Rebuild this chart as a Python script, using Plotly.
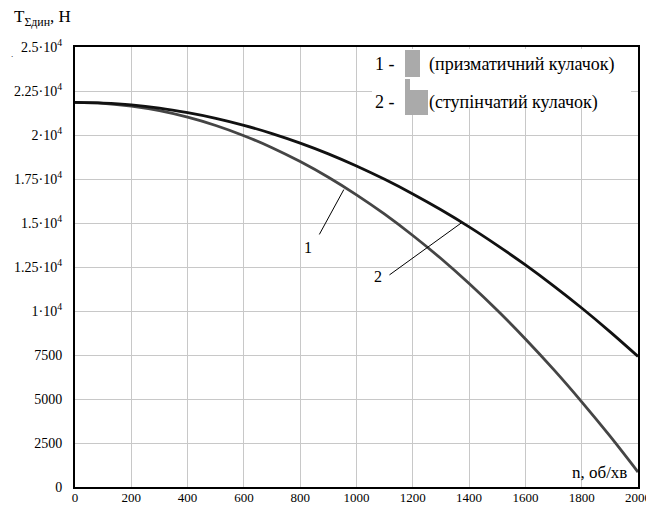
import plotly.graph_objects as go

# ---- data ----
n_vals = [0, 100, 200, 300, 400, 500, 600, 700, 800, 900, 1000,
          1100, 1200, 1300, 1400, 1500, 1600, 1700, 1800, 1900, 2000]
# curve 1: призматичний кулачок (lower, grey)
t_prism = [21850, 21800, 21640, 21380, 21010, 20540, 19960, 19280, 18490, 17600, 16600,
           15500, 14290, 12980, 11560, 10040, 8410, 6680, 4840, 2900, 850]
# curve 2: ступінчатий кулачок (upper, black)
t_step = [21850, 21810, 21710, 21530, 21270, 20950, 20550, 20080, 19540, 18930, 18240,
          17480, 16650, 15750, 14780, 13730, 12620, 11430, 10170, 8830, 7420]

y_ticks = [0, 2500, 5000, 7500, 10000, 12500, 15000, 17500, 20000, 22500, 25000]
y_tick_text = ["0", "2500", "5000", "7500", "1·10<sup>4</sup>", "1.25·10<sup>4</sup>",
               "1.5·10<sup>4</sup>", "1.75·10<sup>4</sup>", "2·10<sup>4</sup>",
               "2.25·10<sup>4</sup>", "2.5·10<sup>4</sup>"]
x_ticks = [0, 200, 400, 600, 800, 1000, 1200, 1400, 1600, 1800, 2000]

FONT = "Liberation Serif"

fig = go.Figure()
fig.add_trace(go.Scatter(x=n_vals, y=t_prism, mode="lines",
                         line=dict(color="#454545", width=2.8, shape="spline"), showlegend=False))
fig.add_trace(go.Scatter(x=n_vals, y=t_step, mode="lines",
                         line=dict(color="#111111", width=2.8, shape="spline"), showlegend=False))

# page has an 8px body offset; plot area in screen pixels: x 75..638, y 47..487
OFF = 8
W, H = 654 - OFF, 507 - OFF
PL, PR, PT, PB = 75, 638, 47, 487
L, R, T, B = PL - OFF, W + OFF - PR, PT - OFF, H + OFF - PB
pw, ph = PR - PL, PB - PT


def px(x):
    return (x - PL) / pw


def py(y):
    return (PB - y) / ph


shapes = []
# legend white box
shapes.append(dict(type="rect", xref="paper", yref="paper", x0=px(372), x1=px(631), y0=py(108), y1=py(49),
                   fillcolor="white", line=dict(width=0), layer="above"))
# legend symbol 1
shapes.append(dict(type="rect", xref="paper", yref="paper", x0=px(405), x1=px(420), y0=py(77), y1=py(50),
                   fillcolor="#aaaaaa", line=dict(width=0), layer="above"))
# legend symbol 2 (stepped)
shapes.append(dict(type="rect", xref="paper", yref="paper", x0=px(405), x1=px(410), y0=py(115), y1=py(79),
                   fillcolor="#aaaaaa", line=dict(width=0), layer="above"))
shapes.append(dict(type="rect", xref="paper", yref="paper", x0=px(405), x1=px(428), y0=py(115), y1=py(90),
                   fillcolor="#aaaaaa", line=dict(width=0), layer="above"))
# leader lines
shapes.append(dict(type="line", xref="x", yref="y", x0=868, y0=14350, x1=955, y1=16900,
                   line=dict(color="black", width=1)))
shapes.append(dict(type="line", xref="x", yref="y", x0=1117, y0=12050, x1=1372, y1=15000,
                   line=dict(color="black", width=1)))

annotations = [
    dict(text="T<sub>Σдин</sub>, Н", xref="paper", yref="paper", x=px(12), y=py(18), xanchor="left",
         yanchor="middle", showarrow=False, font=dict(family=FONT, size=17, color="black")),
    dict(text=".", xref="paper", yref="paper", x=px(12), y=py(54), xanchor="center",
         yanchor="middle", showarrow=False, font=dict(family=FONT, size=9, color="black")),
    dict(text="n, об/хв", xref="paper", yref="paper", x=px(629), y=py(472), xanchor="right",
         yanchor="middle", showarrow=False, font=dict(family=FONT, size=17, color="black")),
    dict(text="1", xref="x", yref="y", x=829, y=13600, showarrow=False,
         font=dict(family=FONT, size=16, color="black")),
    dict(text="2", xref="x", yref="y", x=1078, y=11950, showarrow=False,
         font=dict(family=FONT, size=16, color="black")),
    dict(text="1 -", xref="paper", yref="paper", x=px(373), y=py(64), xanchor="left", yanchor="middle",
         showarrow=False, font=dict(family=FONT, size=18, color="black")),
    dict(text="(призматичний кулачок)", xref="paper", yref="paper", x=px(427), y=py(64), xanchor="left",
         yanchor="middle", showarrow=False, font=dict(family=FONT, size=18, color="black")),
    dict(text="2 -", xref="paper", yref="paper", x=px(373), y=py(102), xanchor="left", yanchor="middle",
         showarrow=False, font=dict(family=FONT, size=18, color="black")),
    dict(text="(ступінчатий кулачок)", xref="paper", yref="paper", x=px(427), y=py(102), xanchor="left",
         yanchor="middle", showarrow=False, font=dict(family=FONT, size=18, color="black")),
]

fig.update_layout(
    width=W, height=H,
    margin=dict(l=L, r=R, t=T, b=B, pad=0),
    plot_bgcolor="white", paper_bgcolor="white",
    font=dict(family=FONT, size=14, color="black"),
    shapes=shapes, annotations=annotations,
    xaxis=dict(range=[0, 2000], tickvals=x_ticks, showgrid=True, gridcolor="#c8c8c8", gridwidth=1,
               showline=True, linecolor="black", linewidth=2, mirror=True, zeroline=False,
               ticks="", tickfont=dict(family=FONT, size=13), ticklabelstandoff=-3, automargin=False),
    yaxis=dict(range=[0, 25000], tickvals=y_ticks, ticktext=y_tick_text, showgrid=True,
               gridcolor="#c8c8c8", gridwidth=1, showline=True, linecolor="black", linewidth=2,
               mirror=True, zeroline=False, ticks="", tickfont=dict(family=FONT, size=14),
               ticklabelstandoff=8, automargin=False),
)

fig.write_html("out.html")
